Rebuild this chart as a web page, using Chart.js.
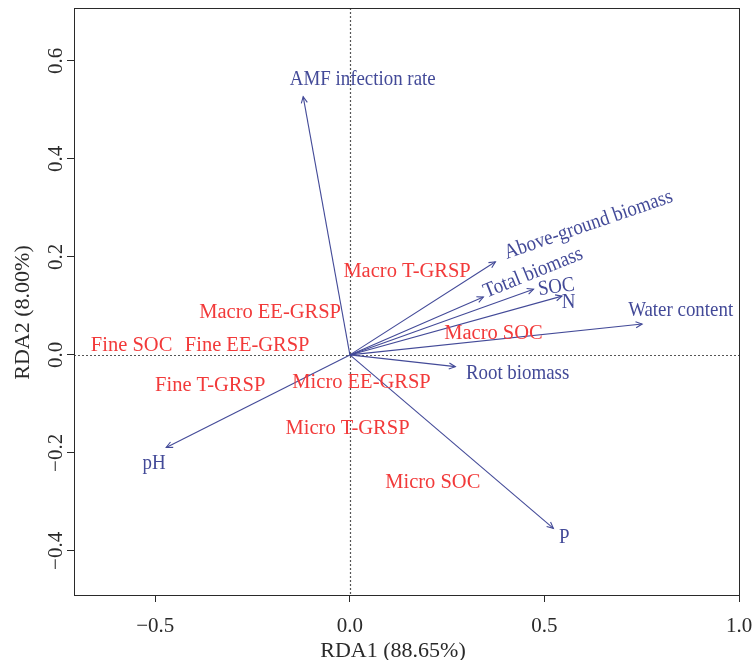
<!DOCTYPE html>
<html>
<head>
<meta charset="utf-8">
<script src="https://cdn.jsdelivr.net/npm/chart.js@4.4.1/dist/chart.umd.min.js"></script>
<style>
html,body{margin:0;padding:0;background:#ffffff;}
#wrap{width:755px;height:660px;}
</style>
</head>
<body>
<div id="wrap"><canvas id="c" width="755" height="660"></canvas></div>
<script>
// ---- data ----
const envNames = ['AMF infection rate','Above-ground biomass','Total biomass','SOC','N','Water content','Root biomass','P','pH'];
const envX = [-0.120, 0.374, 0.343, 0.472, 0.545, 0.751, 0.271, 0.523, -0.472];
const envY = [0.527, 0.190, 0.118, 0.134, 0.120, 0.063, -0.024, -0.354, -0.189];
const envLabelX = [0.033, 0.612, 0.470, 0.530, 0.562, 0.850, 0.431, 0.551, -0.503];
const envLabelY = [0.565, 0.268, 0.170, 0.141, 0.109, 0.094, -0.036, -0.369, -0.219];
const envLabelAngle = [0, -19, -22, -8, 0, 0, 0, 0, 0];

const fracNames = ['Macro T-GRSP','Macro EE-GRSP','Fine SOC','Fine EE-GRSP','Fine T-GRSP','Micro EE-GRSP','Micro T-GRSP','Micro SOC','Macro SOC'];
const fracX = [0.147, -0.205, -0.561, -0.264, -0.359, 0.030, -0.006, 0.213, 0.369];
const fracY = [0.172, 0.090, 0.022, 0.021, -0.060, -0.054, -0.148, -0.257, 0.047];

const xTicks = [-0.5, 0.0, 0.5, 1.0];
const xTickLabels = ['\u22120.5', '0.0', '0.5', '1.0'];
const yTicks = [-0.4, -0.2, 0.0, 0.2, 0.4, 0.6];
const yTickLabels = ['\u22120.4', '\u22120.2', '0.0', '0.2', '0.4', '0.6'];
const xTitle = 'RDA1 (88.65%)';
const yTitle = 'RDA2 (8.00%)';

// ---- styles ----
const BLUE = '#434a98';
const RED = '#f23a3a';
const AX = '#2a2a2a';
const SERIF = '"Liberation Serif", "Times New Roman", serif';

const datasets = envNames.map((n, i) => ({
  label: n,
  data: [{x: 0, y: 0}, {x: envX[i], y: envY[i]}],
  showLine: true,
  borderColor: BLUE,
  borderWidth: 1.1,
  pointRadius: 0,
  fill: false
}));
datasets.push({
  label: 'fractions',
  data: fracX.map((v, i) => ({x: v, y: fracY[i]})),
  showLine: false,
  pointRadius: 0,
  borderColor: RED,
  backgroundColor: RED
});

const decor = {
  id: 'decor',
  beforeDatasetsDraw(chart) {
    const {ctx, chartArea: a, scales: {x, y}} = chart;
    ctx.save();
    ctx.strokeStyle = '#555';
    ctx.lineWidth = 1.2;
    ctx.setLineDash([2, 2]);
    const x0 = Math.round(x.getPixelForValue(0)) + 0.5;
    const y0 = Math.round(y.getPixelForValue(0)) + 0.5;
    ctx.beginPath();
    ctx.moveTo(x0, a.top); ctx.lineTo(x0, a.bottom);
    ctx.moveTo(a.left, y0); ctx.lineTo(a.right, y0);
    ctx.stroke();
    ctx.restore();
  },
  afterDatasetsDraw(chart) {
    const {ctx, chartArea: a, scales: {x, y}} = chart;
    ctx.save();
    // arrowheads
    ctx.strokeStyle = BLUE;
    ctx.lineWidth = 1.1;
    const ox = x.getPixelForValue(0), oy = y.getPixelForValue(0);
    envX.forEach((v, i) => {
      const tx = x.getPixelForValue(v), ty = y.getPixelForValue(envY[i]);
      const ang = Math.atan2(ty - oy, tx - ox);
      const L = 7, h = Math.PI / 7;
      ctx.beginPath();
      ctx.moveTo(tx - L * Math.cos(ang - h), ty - L * Math.sin(ang - h));
      ctx.lineTo(tx, ty);
      ctx.lineTo(tx - L * Math.cos(ang + h), ty - L * Math.sin(ang + h));
      ctx.stroke();
    });
    // environmental labels (tall, slightly condensed serif)
    ctx.fillStyle = BLUE;
    ctx.textAlign = 'center';
    ctx.textBaseline = 'alphabetic';
    const fsB = 21;
    ctx.font = fsB + 'px ' + SERIF;
    envNames.forEach((n, i) => {
      const px = x.getPixelForValue(envLabelX[i]), py = y.getPixelForValue(envLabelY[i]);
      ctx.save();
      ctx.translate(px, py);
      ctx.rotate(envLabelAngle[i] * Math.PI / 180);
      ctx.scale(0.9, 1);
      ctx.fillText(n, 0, fsB * 0.33);
      ctx.restore();
    });
    // fraction labels
    const meta = chart.getDatasetMeta(chart.data.datasets.length - 1);
    const fsR = 20.5;
    ctx.fillStyle = RED;
    ctx.font = fsR + 'px ' + SERIF;
    meta.data.forEach((pt, i) => {
      ctx.fillText(fracNames[i], pt.x, pt.y + fsR * 0.33);
    });
    ctx.restore();
  },
  afterDraw(chart) {
    const {ctx, chartArea: a, scales: {x, y}} = chart;
    ctx.save();
    ctx.strokeStyle = AX;
    ctx.lineWidth = 1;
    ctx.strokeRect(Math.round(a.left) + 0.5, Math.round(a.top) + 0.5, Math.round(a.right - a.left), Math.round(a.bottom - a.top));
    ctx.fillStyle = AX;
    ctx.font = '21px ' + SERIF;
    ctx.textAlign = 'center';
    ctx.textBaseline = 'alphabetic';
    xTicks.forEach((v, i) => {
      ctx.fillText(xTickLabels[i], x.getPixelForValue(v), 631.5);
    });
    yTicks.forEach((v, i) => {
      ctx.save();
      ctx.translate(61.5, y.getPixelForValue(v));
      ctx.rotate(-Math.PI / 2);
      ctx.fillText(yTickLabels[i], 0, 0);
      ctx.restore();
    });
    ctx.font = '22px ' + SERIF;
    ctx.fillText(xTitle, 393, 656.5);
    ctx.save();
    ctx.translate(28.5, 312.5);
    ctx.rotate(-Math.PI / 2);
    ctx.fillText(yTitle, 0, 0);
    ctx.restore();
    ctx.restore();
  }
};

new Chart(document.getElementById('c'), {
  type: 'scatter',
  data: {datasets},
  options: {
    responsive: false,
    animation: false,
    devicePixelRatio: 1,
    layout: {padding: {top: 8, right: 16, left: 0, bottom: 0}},
    plugins: {legend: {display: false}, tooltip: {enabled: false}},
    scales: {
      x: {
        type: 'linear', min: -0.709, max: 1.0,
        afterBuildTicks: s => { s.ticks = xTicks.map(v => ({value: v})); },
        afterFit: s => { s.height = 65; },
        ticks: {display: false},
        grid: {drawOnChartArea: false, drawTicks: true, tickLength: 7, color: AX, lineWidth: 1},
        border: {display: true, color: AX, width: 1}
      },
      y: {
        type: 'linear', min: -0.49, max: 0.708,
        afterBuildTicks: s => { s.ticks = yTicks.map(v => ({value: v})); },
        afterFit: s => { s.width = 74; },
        ticks: {display: false},
        grid: {drawOnChartArea: false, drawTicks: true, tickLength: 7, color: AX, lineWidth: 1},
        border: {display: true, color: AX, width: 1}
      }
    }
  },
  plugins: [decor]
});
</script>
</body>
</html>
